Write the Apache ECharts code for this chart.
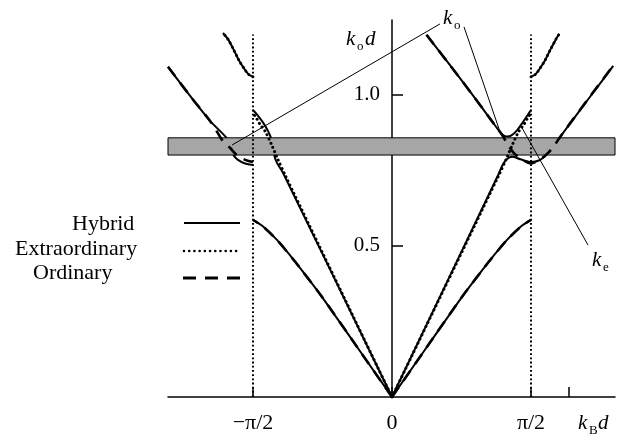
<!DOCTYPE html>
<html>
<head>
<meta charset="utf-8">
<script src="https://cdn.jsdelivr.net/npm/echarts@6/dist/echarts.min.js"></script>
<style>
  html, body { margin: 0; padding: 0; background: #fff; }
  #main { width: 620px; height: 438px; }
</style>
</head>
<body>
<div id="main"></div>
<script>
// band diagram: k_o d against k_B d
const HALF_PI = Math.PI / 2;
const xTickValues = [-HALF_PI, 0, HALF_PI, 2.0];
const xLabelValues = [-HALF_PI, 0, HALF_PI];
const xLabelTexts = ['−π/2', '0', 'π/2'];
const yTickValues = [0.5, 1.0];
const bandRange = [0.801, 0.858];

// lowest band (hybrid and ordinary coincide)
const lowRight = [[0, 0], [0.4, 0.168], [0.8, 0.335], [1.1, 0.45], [1.3, 0.52], [1.46, 0.565], [1.571, 0.586]];
const lowLeft = [[0, 0], [-0.4, 0.168], [-0.8, 0.335], [-1.1, 0.45], [-1.3, 0.52], [-1.46, 0.565], [-1.571, 0.586]];

// hybrid branches
const hybridRight2 = [[0, 0], [1.2, 0.735], [1.25, 0.768], [1.3, 0.788], [1.36, 0.795], [1.45, 0.787], [1.571, 0.778],
  [1.66, 0.783], [1.74, 0.8], [1.82, 0.83], [1.9, 0.861], [2.1, 0.94], [2.3, 1.018], [2.5, 1.096]];
const hybridRightV = [[0.39, 1.199], [0.8, 1.043], [1.1, 0.925], [1.2, 0.885], [1.25, 0.868], [1.3, 0.862], [1.35, 0.866],
  [1.41, 0.882], [1.47, 0.906], [1.53, 0.932], [1.571, 0.95]];
const hybridLeft2 = [[0, 0], [-1.232, 0.742], [-1.3, 0.775], [-1.33, 0.8], [-1.34, 0.83], [-1.36, 0.852], [-1.4, 0.88],
  [-1.46, 0.91], [-1.525, 0.935], [-1.571, 0.95]];
const hybridLeftOuter = [[-2.531, 1.093], [-2.25, 0.985], [-2.056, 0.914], [-1.864, 0.856], [-1.82, 0.83], [-1.79, 0.8],
  [-1.74, 0.785], [-1.66, 0.773], [-1.571, 0.768]];

// upper branches (hybrid and extraordinary coincide)
const upperLeft = [[-1.571, 1.06], [-1.62, 1.068], [-1.67, 1.087], [-1.73, 1.115], [-1.79, 1.15], [-1.85, 1.183], [-1.91, 1.205]];
const upperRight = [[1.571, 1.06], [1.62, 1.068], [1.67, 1.087], [1.73, 1.115], [1.79, 1.15], [1.85, 1.183], [1.89, 1.202]];

// extraordinary
const extraRight = [[0, 0], [1.2, 0.73], [1.29, 0.787], [1.36, 0.835], [1.43, 0.878], [1.49, 0.902], [1.53, 0.922], [1.571, 0.94]];
const extraLeft = [[0, 0], [-1.2, 0.73], [-1.29, 0.787], [-1.36, 0.835], [-1.43, 0.878], [-1.49, 0.902], [-1.53, 0.922], [-1.571, 0.94]];

// ordinary
const ordinaryRight = [[0.39, 1.199], [0.8, 1.043], [1.15, 0.905], [1.25, 0.865], [1.3, 0.84], [1.37, 0.81], [1.45, 0.79],
  [1.571, 0.773], [1.69, 0.79], [1.77, 0.81], [1.84, 0.835], [1.9, 0.861], [2.2, 0.98], [2.5, 1.097]];
const ordinaryLeft = [[-2.531, 1.093], [-2.25, 0.985], [-2.056, 0.914], [-1.95, 0.865], [-1.921, 0.851], [-1.831, 0.825],
  [-1.75, 0.8], [-1.66, 0.785], [-1.571, 0.778]];

// zone edges
const zoneLeft = [[-HALF_PI, 0], [-HALF_PI, 1.2]];
const zoneRight = [[HALF_PI, 0], [HALF_PI, 1.2]];

// pointer lines for the labels
const pointerKoLeft = [[0.542, 1.235], [-1.808, 0.834]];
const pointerKoRight = [[0.814, 1.225], [1.23, 0.87]];
const pointerKe = [[1.469, 0.891], [2.215, 0.503]];

const FONT = 'Liberation Serif';
const solid = { color: '#000', width: 2, type: 'solid' };
const dotted = { color: '#000', width: 3, type: [0.01, 4.6], cap: 'round' };
const dashed = { color: '#000', width: 2.6, type: [12, 8] };
const thin = { color: '#000', width: 1, type: 'solid' };

function curve(data, style, z, smooth) {
  return {
    type: 'line', data: data, symbol: 'none', silent: true, z: z,
    smooth: smooth === undefined ? 0.3 : smooth,
    lineStyle: style, animation: false
  };
}

function txt(left, top, text, size, italic) {
  return {
    type: 'text', left: left, top: top, silent: true,
    style: { text: text, fontFamily: FONT, fontSize: size, fontStyle: italic ? 'italic' : 'normal', fill: '#000' }
  };
}

const chart = echarts.init(document.getElementById('main'));

chart.setOption({
  animation: false,
  grid: { left: 168, right: 5, top: 20, bottom: 41 },
  xAxis: {
    type: 'value', min: -2.531, max: 2.52,
    axisLine: { onZero: false, lineStyle: { color: '#000', width: 1.5 } },
    splitLine: { show: false },
    axisTick: { inside: true, length: 10, customValues: xTickValues, lineStyle: { color: '#000', width: 1.5 } },
    axisLabel: {
      customValues: xLabelValues, margin: 15, color: '#000', fontFamily: FONT, fontSize: 22,
      formatter: function (v) {
        for (let i = 0; i < xLabelValues.length; i++) {
          if (Math.abs(v - xLabelValues[i]) < 1e-6) return xLabelTexts[i];
        }
        return '';
      }
    }
  },
  yAxis: {
    type: 'value', min: 0, max: 1.248,
    // the axis stands at k_B d = 0, 224 px right of the grid's left edge
    offset: -224,
    axisLine: { onZero: false, lineStyle: { color: '#000', width: 1.5 } },
    splitLine: { show: false },
    axisTick: { inside: true, length: 11, customValues: yTickValues, lineStyle: { color: '#000', width: 1.5 } },
    axisLabel: {
      customValues: yTickValues, margin: 12, color: '#000', fontFamily: FONT, fontSize: 21,
      formatter: function (v) { return v.toFixed(1); }
    }
  },
  series: [
    curve(lowRight, solid, 2, 0.2),
    curve(lowLeft, solid, 2, 0.2),
    curve(hybridRight2, solid, 2),
    curve(hybridRightV, solid, 2),
    curve(hybridLeft2, solid, 2),
    curve(hybridLeftOuter, solid, 2),
    curve(upperLeft, solid, 2),
    curve(upperRight, solid, 2),
    {
      type: 'line', data: [], silent: true, z: 3,
      markArea: {
        silent: true, z: 3,
        itemStyle: { color: '#a6a6a6', borderColor: '#000', borderWidth: 1 },
        data: [[{ xAxis: -2.55, yAxis: bandRange[0] }, { xAxis: 2.535, yAxis: bandRange[1] }]]
      }
    },
    curve(lowRight, dashed, 4, 0.2),
    curve(lowLeft, dashed, 4, 0.2),
    curve(ordinaryRight, dashed, 4),
    curve(ordinaryLeft, dashed, 4),
    curve(extraRight, dotted, 4),
    curve(extraLeft, dotted, 4),
    curve(upperLeft, dotted, 4),
    curve(upperRight, dotted, 4),
    curve(zoneLeft, { color: '#000', width: 2, type: [1.8, 2.4] }, 4, false),
    curve(zoneRight, { color: '#000', width: 2, type: [1.8, 2.4] }, 4, false),
    curve(pointerKoLeft, thin, 5, false),
    curve(pointerKoRight, thin, 5, false),
    curve(pointerKe, thin, 5, false)
  ],
  graphic: [
    // axis names
    txt(346, 29, 'k', 21, true), txt(357, 40, 'o', 13, false), txt(365, 29, 'd', 21, true),
    txt(578, 413, 'k', 21, true), txt(589, 424, 'B', 13, false), txt(598, 413, 'd', 21, true),
    // curve labels
    txt(443, 8, 'k', 21, true), txt(454, 19, 'o', 13, false),
    txt(592, 250, 'k', 21, true), txt(603, 261, 'e', 13, false),
    // legend
    txt(72, 213, 'Hybrid', 22, false),
    txt(15, 238, 'Extraordinary', 22, false),
    txt(33, 262, 'Ordinary', 22, false),
    { type: 'line', silent: true, shape: { x1: 184, y1: 223, x2: 240, y2: 223 }, style: { stroke: '#000', lineWidth: 2 } },
    { type: 'line', silent: true, shape: { x1: 184, y1: 251, x2: 240, y2: 251 }, style: { stroke: '#000', lineWidth: 2.6, lineDash: [0.01, 5.2], lineCap: 'round' } },
    { type: 'line', silent: true, shape: { x1: 183, y1: 278, x2: 240, y2: 278 }, style: { stroke: '#000', lineWidth: 3, lineDash: [13, 9] } }
  ]
});
</script>
</body>
</html>
